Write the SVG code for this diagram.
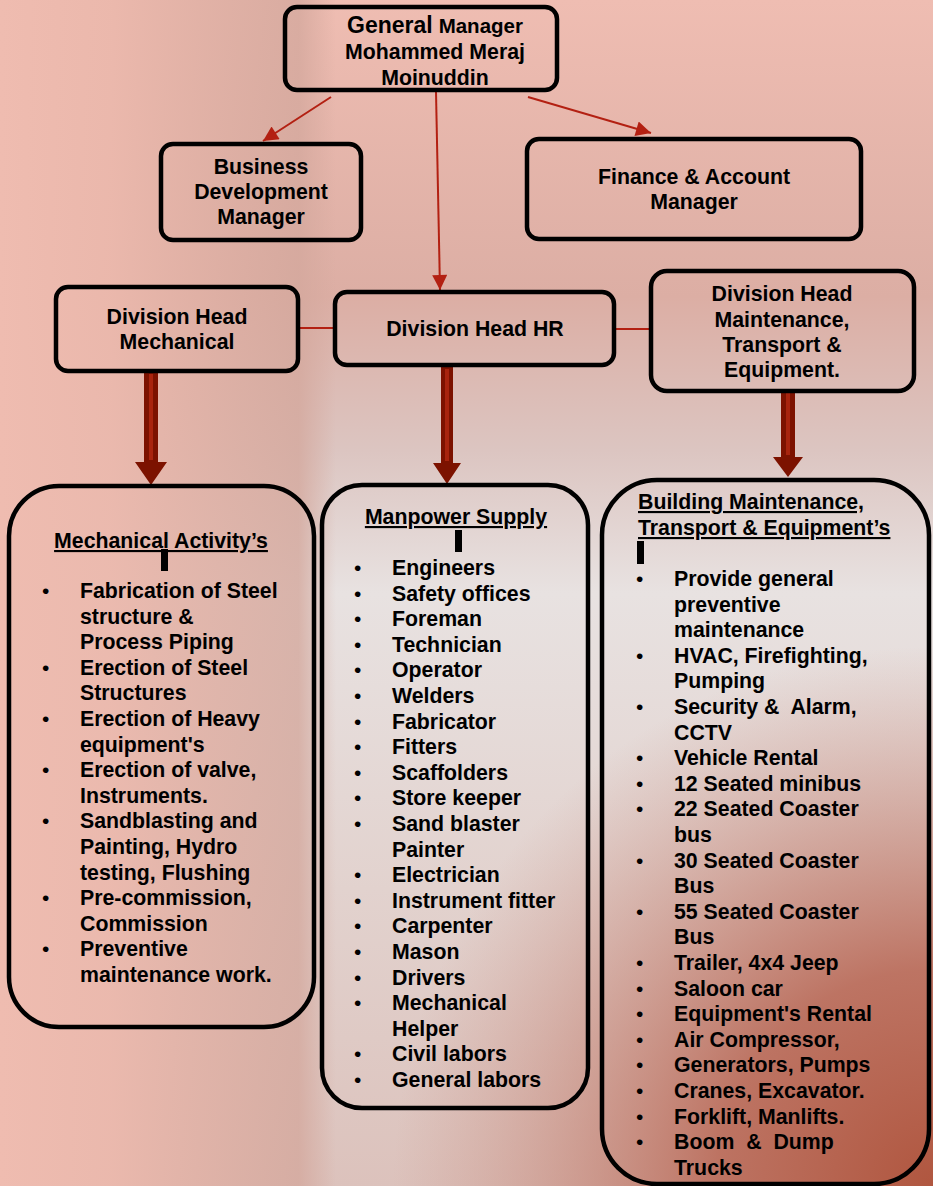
<svg xmlns="http://www.w3.org/2000/svg" width="933" height="1186" viewBox="0 0 933 1186">
<defs>
<style>
.box{fill:none;stroke:#000;stroke-width:4.5}
.t{font-family:"Liberation Sans",Arial,sans-serif;font-weight:bold;font-size:21.3px;fill:#000}
.b{font-family:"Liberation Sans",Arial,sans-serif;font-size:21px;fill:#000}
.c{text-anchor:middle}
.u{text-decoration:underline}
.thin{stroke:#b32012;stroke-width:2;fill:none}
.ta{fill:#7c1200}
.ts{fill:#a8240e}
</style>
<marker id="ah" viewBox="0 0 10 10" refX="10" refY="5" markerWidth="18" markerHeight="15" markerUnits="userSpaceOnUse" orient="auto">
<path d="M0,0 L10,5 L0,10 z" fill="#b32012"/>
</marker>
<linearGradient id="bgV" x1="0" y1="0" x2="0" y2="1">
<stop offset="0" stop-color="#efbdb2"/>
<stop offset="0.25" stop-color="#dcaea4"/>
<stop offset="0.38" stop-color="#dcc5c1"/>
<stop offset="0.5" stop-color="#e8e2e1"/>
<stop offset="0.75" stop-color="#e2d2ce"/>
<stop offset="1" stop-color="#dcc2bc"/>
</linearGradient>
<linearGradient id="bgL" x1="0" y1="0" x2="1" y2="0">
<stop offset="0" stop-color="#efbcb0" stop-opacity="1"/>
<stop offset="0.12" stop-color="#ebb8ac" stop-opacity="0.95"/>
<stop offset="0.32" stop-color="#d4a89d" stop-opacity="0.8"/>
<stop offset="0.36" stop-color="#d4a89d" stop-opacity="0"/>
</linearGradient>
<radialGradient id="bgBR" cx="933" cy="1186" r="540" gradientUnits="userSpaceOnUse">
<stop offset="0" stop-color="#b0563f"/>
<stop offset="0.4" stop-color="#b96a58" stop-opacity="0.9"/>
<stop offset="1" stop-color="#c88a7c" stop-opacity="0"/>
</radialGradient>
</defs>

<g id="background">
<rect x="0" y="0" width="933" height="1186" fill="url(#bgV)"/>
<rect x="0" y="0" width="933" height="1186" fill="url(#bgL)"/>
<rect x="0" y="0" width="933" height="1186" fill="url(#bgBR)"/>
</g>

<g id="connectors">
<line class="thin" x1="331" y1="97" x2="263" y2="141" marker-end="url(#ah)"/>
<line class="thin" x1="528" y1="97" x2="651" y2="133" marker-end="url(#ah)"/>
<line class="thin" x1="436" y1="92" x2="440" y2="290" marker-end="url(#ah)"/>
<line class="thin" x1="298" y1="328" x2="335" y2="328"/>
<line class="thin" x1="614" y1="329" x2="651" y2="329"/>
<g id="thick-mech">
<polygon class="ta" points="144,372 158,372 158,462 167,462 151,485 135,462 144,462"/>
<rect class="ts" x="149" y="374" width="4" height="86"/>
</g>
<g id="thick-hr">
<polygon class="ta" points="441,367 453,367 453,463 461,463 447,484 433,463 441,463"/>
<rect class="ts" x="445" y="369" width="4" height="92"/>
</g>
<g id="thick-maint">
<polygon class="ta" points="781,391 795,391 795,457 803,457 788,477 773,457 781,457"/>
<rect class="ts" x="786" y="393" width="4" height="62"/>
</g>
</g>

<g id="general-manager">
<rect class="box" x="285" y="7" width="272" height="83" rx="12"/>
<text class="t c" x="435" y="33"><tspan font-size="23">General</tspan> <tspan font-size="20.5">Manager</tspan></text>
<text class="t c" x="435" y="59">Mohammed Meraj</text>
<text class="t c" x="435" y="85">Moinuddin</text>
</g>

<g id="business-development">
<rect class="box" x="161" y="144" width="200" height="96" rx="12"/>
<text class="t c" x="261" y="174">Business</text>
<text class="t c" x="261" y="199">Development</text>
<text class="t c" x="261" y="224">Manager</text>
</g>

<g id="finance">
<rect class="box" x="527" y="139" width="334" height="100" rx="12"/>
<text class="t c" x="694" y="184">Finance &amp; Account</text>
<text class="t c" x="694" y="209">Manager</text>
</g>

<g id="div-mechanical">
<rect class="box" x="56" y="287" width="242" height="84" rx="12"/>
<text class="t c" x="177" y="324">Division Head</text>
<text class="t c" x="177" y="349">Mechanical</text>
</g>

<g id="div-hr">
<rect class="box" x="335" y="292" width="279" height="73" rx="12"/>
<text class="t c" x="475" y="336">Division Head HR</text>
</g>

<g id="div-maintenance">
<rect class="box" x="651" y="271" width="263" height="120" rx="16"/>
<text class="t c" x="782" y="301">Division Head</text>
<text class="t c" x="782" y="327">Maintenance,</text>
<text class="t c" x="782" y="352">Transport &amp;</text>
<text class="t c" x="782" y="377">Equipment.</text>
</g>

<g id="mechanical-activities">
<rect class="box" x="9" y="486" width="305" height="541" rx="50"/>
<text class="t c u" x="161" y="548">Mechanical Activity’s</text>
<rect x="161" y="549" width="7" height="22" fill="#000"/>
<text class="b"><tspan x="42" y="598">•</tspan><tspan x="42" y="674.8">•</tspan><tspan x="42" y="726">•</tspan><tspan x="42" y="777.2">•</tspan><tspan x="42" y="828.4">•</tspan><tspan x="42" y="905.2">•</tspan><tspan x="42" y="956.4">•</tspan></text>
<text class="t">
<tspan x="80" y="598">Fabrication of Steel</tspan>
<tspan x="80" y="623.6">structure &amp;</tspan>
<tspan x="80" y="649.2">Process Piping</tspan>
<tspan x="80" y="674.8">Erection of Steel</tspan>
<tspan x="80" y="700.4">Structures</tspan>
<tspan x="80" y="726">Erection of Heavy</tspan>
<tspan x="80" y="751.6">equipment's</tspan>
<tspan x="80" y="777.2">Erection of valve,</tspan>
<tspan x="80" y="802.8">Instruments.</tspan>
<tspan x="80" y="828.4">Sandblasting and</tspan>
<tspan x="80" y="854">Painting, Hydro</tspan>
<tspan x="80" y="879.6">testing, Flushing</tspan>
<tspan x="80" y="905.2">Pre-commission,</tspan>
<tspan x="80" y="930.8">Commission</tspan>
<tspan x="80" y="956.4">Preventive</tspan>
<tspan x="80" y="982">maintenance work.</tspan>
</text>
</g>

<g id="manpower-supply">
<rect class="box" x="322" y="485" width="266" height="623" rx="40"/>
<text class="t c u" x="456" y="524">Manpower Supply</text>
<rect x="455" y="530" width="7" height="22" fill="#000"/>
<text class="b"><tspan x="354" y="575">•</tspan><tspan x="354" y="600.6">•</tspan><tspan x="354" y="626.2">•</tspan><tspan x="354" y="651.8">•</tspan><tspan x="354" y="677.4">•</tspan><tspan x="354" y="703">•</tspan><tspan x="354" y="728.6">•</tspan><tspan x="354" y="754.2">•</tspan><tspan x="354" y="779.8">•</tspan><tspan x="354" y="805.4">•</tspan><tspan x="354" y="831">•</tspan><tspan x="354" y="882.2">•</tspan><tspan x="354" y="907.8">•</tspan><tspan x="354" y="933.4">•</tspan><tspan x="354" y="959">•</tspan><tspan x="354" y="984.6">•</tspan><tspan x="354" y="1010.2">•</tspan><tspan x="354" y="1061.4">•</tspan><tspan x="354" y="1087">•</tspan></text>
<text class="t">
<tspan x="392" y="575">Engineers</tspan>
<tspan x="392" y="600.6">Safety offices</tspan>
<tspan x="392" y="626.2">Foreman</tspan>
<tspan x="392" y="651.8">Technician</tspan>
<tspan x="392" y="677.4">Operator</tspan>
<tspan x="392" y="703">Welders</tspan>
<tspan x="392" y="728.6">Fabricator</tspan>
<tspan x="392" y="754.2">Fitters</tspan>
<tspan x="392" y="779.8">Scaffolders</tspan>
<tspan x="392" y="805.4">Store keeper</tspan>
<tspan x="392" y="831">Sand blaster</tspan>
<tspan x="392" y="856.6">Painter</tspan>
<tspan x="392" y="882.2">Electrician</tspan>
<tspan x="392" y="907.8">Instrument fitter</tspan>
<tspan x="392" y="933.4">Carpenter</tspan>
<tspan x="392" y="959">Mason</tspan>
<tspan x="392" y="984.6">Drivers</tspan>
<tspan x="392" y="1010.2">Mechanical</tspan>
<tspan x="392" y="1035.8">Helper</tspan>
<tspan x="392" y="1061.4">Civil labors</tspan>
<tspan x="392" y="1087">General labors</tspan>
</text>
</g>

<g id="building-maintenance">
<rect class="box" x="602" y="480" width="327" height="704" rx="55"/>
<text class="t u" x="638" y="509">Building Maintenance,</text>
<text class="t u" x="638" y="535">Transport &amp; Equipment’s</text>
<rect x="637" y="541" width="7" height="23" fill="#000"/>
<text class="b"><tspan x="636" y="586">•</tspan><tspan x="636" y="662.8">•</tspan><tspan x="636" y="714">•</tspan><tspan x="636" y="765.2">•</tspan><tspan x="636" y="790.8">•</tspan><tspan x="636" y="816.4">•</tspan><tspan x="636" y="867.6">•</tspan><tspan x="636" y="918.8">•</tspan><tspan x="636" y="970">•</tspan><tspan x="636" y="995.6">•</tspan><tspan x="636" y="1021.2">•</tspan><tspan x="636" y="1046.8">•</tspan><tspan x="636" y="1072.4">•</tspan><tspan x="636" y="1098">•</tspan><tspan x="636" y="1123.6">•</tspan><tspan x="636" y="1149.2">•</tspan></text>
<text class="t" xml:space="preserve"><tspan x="674" y="586">Provide general</tspan><tspan x="674" y="611.6">preventive</tspan><tspan x="674" y="637.2">maintenance</tspan><tspan x="674" y="662.8">HVAC, Firefighting,</tspan><tspan x="674" y="688.4">Pumping</tspan><tspan x="674" y="714">Security &amp;  Alarm,</tspan><tspan x="674" y="739.6">CCTV</tspan><tspan x="674" y="765.2">Vehicle Rental</tspan><tspan x="674" y="790.8">12 Seated minibus</tspan><tspan x="674" y="816.4">22 Seated Coaster</tspan><tspan x="674" y="842">bus</tspan><tspan x="674" y="867.6">30 Seated Coaster</tspan><tspan x="674" y="893.2">Bus</tspan><tspan x="674" y="918.8">55 Seated Coaster</tspan><tspan x="674" y="944.4">Bus</tspan><tspan x="674" y="970">Trailer, 4x4 Jeep</tspan><tspan x="674" y="995.6">Saloon car</tspan><tspan x="674" y="1021.2">Equipment's Rental</tspan><tspan x="674" y="1046.8">Air Compressor,</tspan><tspan x="674" y="1072.4">Generators, Pumps</tspan><tspan x="674" y="1098">Cranes, Excavator.</tspan><tspan x="674" y="1123.6">Forklift, Manlifts.</tspan><tspan x="674" y="1149.2">Boom  &amp;  Dump</tspan><tspan x="674" y="1174.8">Trucks</tspan></text>
</g>
</svg>
